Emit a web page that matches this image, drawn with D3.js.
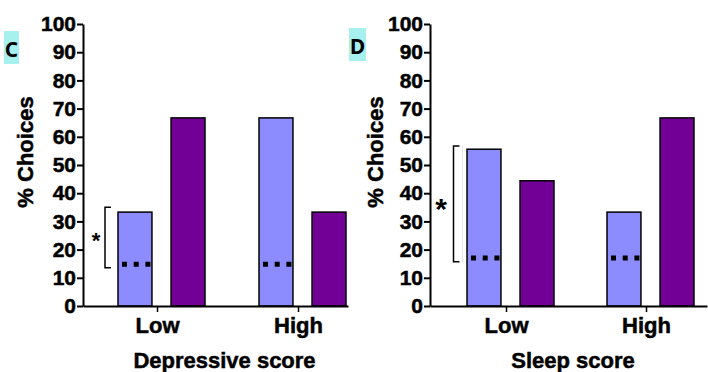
<!DOCTYPE html>
<meta charset="utf-8">
<script src="https://d3js.org/d3.v7.min.js"></script>
<style>
  body { margin: 0; background: #fff; }
  svg { display: block; font-family: "Liberation Sans", Arial, sans-serif; }
  .heavy { stroke: #000; stroke-width: 0.5px; }
</style>
<div id="chart"></div>
<script>
  // values
  var groups = ["Low", "High"];
  var series = ["blue", "purple"];
  var yTicks = [0, 10, 20, 30, 40, 50, 60, 70, 80, 90, 100];

  var depressiveBlue = [33.3, 66.7];
  var depressivePurple = [66.7, 33.3];
  var sleepBlue = [55.6, 33.3];
  var sleepPurple = [44.4, 66.7];

  var chanceC = [14.8, 14.8];
  var chanceD = [17, 17];
  var bracketC = [13.6, 35];   // only over "Low"
  var bracketD = [15.7, 56.7];

  var color = d3.scaleOrdinal().domain(series).range(["#8c8cff", "#730096"]);

  var svg = d3.select("#chart").append("svg")
    .attr("width", 708)
    .attr("height", 372);

  var y = d3.scaleLinear().domain([0, 100]).range([306, 24]);

  var panels = [
    { letter: "C", left: 83, len: 265, ticks: [74, 215], title: "Depressive score",
      blue: depressiveBlue, purple: depressivePurple, chance: chanceC, bracket: bracketC,
      letterBox: [4, 31, 15, 33], ylab: 33, bx: 105, star: [96, 248], starSize: 22 },
    { letter: "D", left: 430, len: 277, ticks: [76, 216], title: "Sleep score",
      blue: sleepBlue, purple: sleepPurple, chance: chanceD, bracket: bracketD,
      letterBox: [349, 28, 17, 33], ylab: 383, bx: 453.5, star: [441, 219], starSize: 30 }
  ];

  panels.forEach(function(p) {
    var g = svg.append("g").attr("transform", "translate(" + p.left + ",0)");

    var x = d3.scalePoint().domain(groups).range(p.ticks);
    var xs = d3.scaleBand().domain(series).range([-39, 48]).paddingInner(0.36);

    var rows = groups.map(function(gr, i) {
      return { group: gr, blue: p.blue[i], purple: p.purple[i], chance: p.chance[i] };
    });

    // faint guide next to the bracket (only visible in D)
    if (p.letter == "D") {
      svg.append("line")
        .attr("x1", 462.5).attr("x2", 462.5)
        .attr("y1", y(p.bracket[1])).attr("y2", y(p.bracket[0]))
        .attr("stroke", "#e6e6e6").attr("stroke-width", 1);
    }

    // bars
    series.forEach(function(s) {
      g.selectAll(".bar-" + s)
        .data(rows)
        .enter().append("rect")
        .attr("x", function(d) { return x(d.group) + xs(s); })
        .attr("y", function(d) { return y(d[s]); })
        .attr("width", xs.bandwidth())
        .attr("height", function(d) { return y(0) - y(d[s]); })
        .attr("fill", color(s))
        .attr("stroke", "#000")
        .attr("stroke-width", 1.5);
    });

    // dotted chance line in blue bars
    g.selectAll(".chance")
      .data(rows)
      .enter().append("line")
      .attr("x1", function(d) { return x(d.group) + xs("blue") + 4; })
      .attr("x2", function(d) { return x(d.group) + xs("blue") + xs.bandwidth(); })
      .attr("y1", function(d) { return y(d.chance); })
      .attr("y2", function(d) { return y(d.chance); })
      .attr("stroke", "#000")
      .attr("stroke-width", 5)
      .attr("stroke-dasharray", "5,6.7");

    // y axis
    var ya = g.append("g")
      .call(d3.axisLeft(y).tickValues(yTicks).tickSize(6).tickSizeOuter(0).tickPadding(1));
    ya.select(".domain").attr("stroke-width", 2);
    ya.selectAll(".tick line").attr("stroke-width", 2);
    ya.selectAll("text").attr("font-size", 21).attr("font-weight", "bold").attr("fill", "#000")
      .attr("class", "heavy")
      .attr("font-family", "Liberation Sans, Arial, sans-serif");

    // x axis
    var xa = g.append("g")
      .attr("transform", "translate(0," + y(0) + ")")
      .call(d3.axisBottom(d3.scaleLinear().domain([0, p.len]).range([0, p.len]))
        .tickValues([]).tickSizeOuter(0));
    xa.select(".domain").attr("stroke-width", 2);
    var xt = g.append("g")
      .attr("transform", "translate(0," + y(0) + ")")
      .call(d3.axisBottom(x).tickSize(6).tickPadding(5).tickSizeOuter(0));
    xt.select(".domain").remove();
    xt.selectAll(".tick line").attr("stroke-width", 1.5);
    xt.selectAll("text").attr("font-size", 22).attr("font-weight", "bold").attr("fill", "#000")
      .attr("class", "heavy")
      .attr("font-family", "Liberation Sans, Arial, sans-serif");

    // axis titles
    g.append("text")
      .attr("class", "heavy")
      .attr("x", (p.ticks[0] + p.ticks[1]) / 2 - 3)
      .attr("y", 368)
      .attr("text-anchor", "middle")
      .attr("font-size", 22)
      .attr("font-weight", "bold")
      .text(p.title);

    svg.append("text")
      .attr("class", "heavy")
      .attr("transform", "translate(" + p.ylab + ",152) rotate(-90)")
      .attr("text-anchor", "middle")
      .attr("font-size", 22)
      .attr("font-weight", "bold")
      .text("% Choices");

    // panel letter
    svg.append("rect")
      .attr("x", p.letterBox[0]).attr("y", p.letterBox[1])
      .attr("width", p.letterBox[2]).attr("height", p.letterBox[3])
      .attr("fill", "#a6f0ee");
    svg.append("text")
      .attr("x", p.letterBox[0] + p.letterBox[2] / 2)
      .attr("y", p.letterBox[1] + 26)
      .attr("text-anchor", "middle")
      .attr("font-family", "Open Sans, sans-serif")
      .attr("font-size", 21)
      .attr("font-weight", "bold")
      .text(p.letter);

    // significance bracket
    var b0 = y(p.bracket[0]), b1 = y(p.bracket[1]);
    svg.append("path")
      .attr("d", "M" + (p.bx + 6) + "," + b1 + "H" + p.bx + "V" + b0 + "H" + (p.bx + 6))
      .attr("fill", "none")
      .attr("stroke", "#000")
      .attr("stroke-width", 1.5);
    svg.append("text")
      .attr("x", p.star[0]).attr("y", p.star[1])
      .attr("text-anchor", "middle")
      .attr("font-size", p.starSize)
      .attr("font-weight", "bold")
      .text("*");
  });
</script>
